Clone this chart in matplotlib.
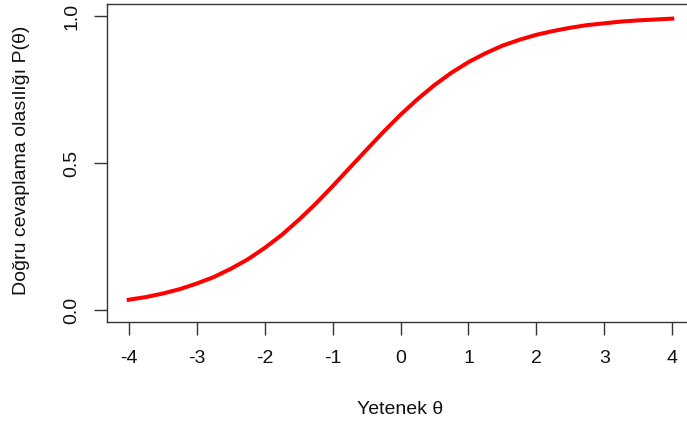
import matplotlib
matplotlib.use('Agg')
import matplotlib.pyplot as plt

# Değerler (theta -> P(theta))
theta = [-4.0, -3.75, -3.5, -3.25, -3.0, -2.75, -2.5, -2.25, -2.0, -1.75, -1.5,
         -1.25, -1.0, -0.75, -0.5, -0.25, 0.0, 0.25, 0.5, 0.75, 1.0, 1.25, 1.5,
         1.75, 2.0, 2.25, 2.5, 2.75, 3.0, 3.25, 3.5, 3.75, 4.0]
prob = [0.035, 0.044, 0.056, 0.071, 0.090, 0.112, 0.140, 0.172, 0.211, 0.255,
        0.306, 0.361, 0.421, 0.483, 0.545, 0.606, 0.664, 0.717, 0.765, 0.807,
        0.843, 0.873, 0.899, 0.919, 0.936, 0.949, 0.960, 0.969, 0.975, 0.981,
        0.985, 0.988, 0.991]

x_ticks = [-4, -3, -2, -1, 0, 1, 2, 3, 4]
y_ticks = [0.0, 0.5, 1.0]
y_tick_labels = ['0.0', '0.5', '1.0']

plt.rcParams['font.family'] = ['Liberation Sans', 'DejaVu Sans']

fig = plt.figure(figsize=(6.87, 4.23), dpi=100)
ax = fig.add_axes([107 / 687, 1 - 321.8 / 423, 587 / 687, 317.6 / 423])

ax.plot(theta, prob, color='red', lw=2.9)

ax.set_xlim(-4.32, 4.32)
ax.set_ylim(-0.04, 1.04)
ax.set_xticks(x_ticks)
ax.set_xticklabels([str(t) for t in x_ticks])
ax.set_yticks(y_ticks)
ax.set_yticklabels(y_tick_labels, rotation=90, va='center')

for s in ax.spines.values():
    s.set_color('#333333')
    s.set_linewidth(1.0)
ax.tick_params(direction='out', length=9.4, width=1.0, color='#333333',
               labelsize=14, labelcolor='#111111')
ax.tick_params(axis='x', pad=11)
ax.tick_params(axis='y', pad=10)

fig.text(400.5 / 687, 1 - 409 / 423, 'Yetenek θ', ha='center', va='center',
         fontsize=14, color='#111111')
fig.text(22 / 687, 1 - 160 / 423, 'Doğru cevaplama olasılığı P(θ)',
         rotation=90, ha='center', va='center', fontsize=14, color='#111111')

fig.savefig('out.png', dpi=100)
